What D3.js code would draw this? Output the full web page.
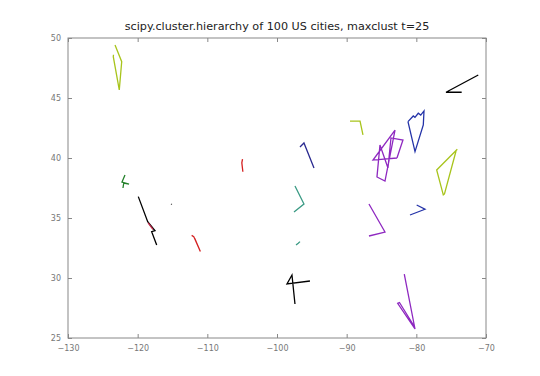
<!DOCTYPE html>
<html>
<head>
<meta charset="utf-8">
<script src="https://cdn.jsdelivr.net/npm/d3@7"></script>
<style>
  body { margin: 0; background: #fff; }
  svg { font-family: "DejaVu Sans", sans-serif; }
</style>
</head>
<body>
<div id="chart"></div>
<script>
// Cluster paths, [longitude, latitude]
const pacificNW = [[-123.25, 49.42], [-122.29, 48.03], [-122.64, 45.67], [-123.5, 48.44], [-123.47, 48.6]];
const bayArea = [[-121.82, 38.58], [-122.25, 38.0], [-121.24, 37.83], [-122.0, 37.9], [-122.11, 37.5]];
const socal = [[-119.91, 36.78], [-118.56, 34.69], [-117.51, 33.94], [-117.99, 33.86], [-117.27, 32.75]];
const socalRed = [[-118.5, 34.6], [-117.8, 34.05]];
const vegas = [[-115.2, 36.17], [-115.1, 36.12]];
const phoenix = [[-112.25, 33.55], [-111.95, 33.45], [-111.0, 32.2], [-111.8, 33.3]];
const denver = [[-104.95, 39.9], [-105.05, 39.6], [-104.9, 38.85]];
const texas = [[-97.42, 27.83], [-97.85, 30.25], [-98.57, 29.5], [-95.27, 29.75]];
const plains = [[-96.7, 40.92], [-96.13, 41.25], [-94.69, 39.17]];
const oklahoma = [[-97.42, 37.67], [-96.13, 36.17], [-97.56, 35.5]];
const dfw = [[-97.27, 32.75], [-96.95, 32.9], [-96.7, 33.03]];
const chicago = [[-89.52, 43.08], [-88.08, 43.08], [-87.66, 41.92]];
const southeast = [[-86.8, 36.17], [-84.5, 33.83], [-86.8, 33.5]];
const florida = [[-81.73, 30.33], [-80.19, 25.75], [-82.68, 27.89], [-82.42, 27.96], [-80.33, 26.0]];
const ohioValley = [[-82.78, 40.0], [-86.22, 39.83], [-83.06, 42.33], [-84.5, 38.08], [-85.65, 38.42],
                    [-85.22, 41.08], [-84.07, 39.17], [-83.64, 41.67], [-81.92, 41.5], [-82.78, 40.0]];
const ontario = [[-81.2, 43.03], [-80.44, 43.5], [-80.2, 43.39], [-79.72, 43.73], [-79.37, 43.58],
                 [-78.9, 43.92], [-79.0, 42.75], [-80.19, 40.53], [-81.2, 43.03]];
const quebec = [[-71.11, 46.92], [-75.74, 45.48], [-73.49, 45.48]];
const carolinas = [[-79.95, 36.08], [-78.76, 35.73], [-80.91, 35.25]];
const eastCoast = [[-74.12, 40.73], [-77.08, 39.0], [-76.13, 36.92], [-75.96, 37.0], [-74.3, 40.58]];

const clusters = [pacificNW, bayArea, socal, socalRed, vegas, phoenix, denver, texas, plains, oklahoma,
                  dfw, chicago, southeast, florida, ohioValley, ontario, quebec, carolinas, eastCoast];
const colors = ["#a8c41c", "#23802a", "#000000", "#c02848", "#333333", "#d42020", "#d42020", "#000000", "#2a2a90",
                "#3a9a84", "#3a9a84", "#a8c41c", "#8e28c0", "#8e28c0", "#8e28c0", "#2433a8", "#000000", "#2433a8", "#a8c41c"];

const xTicks = [-130, -120, -110, -100, -90, -80, -70];
const yTicks = [25, 30, 35, 40, 45, 50];

const margin = { top: 38, right: 54, bottom: 38, left: 68 };
const W = 540, H = 376;
const width = W - margin.left - margin.right;
const height = H - margin.top - margin.bottom;

const svg = d3.select("#chart").append("svg")
    .attr("width", W)
    .attr("height", H);

const g = svg.append("g")
    .attr("transform", `translate(${margin.left},${margin.top})`);

const x = d3.scaleLinear().domain([-130, -70]).range([0, width]);
const y = d3.scaleLinear().domain([25, 50]).range([height, 0]);

// Title
svg.append("text")
    .attr("x", margin.left + width / 2)
    .attr("y", 30)
    .attr("text-anchor", "middle")
    .attr("font-size", "11.2px")
    .attr("fill", "#222")
    .text("scipy.cluster.hierarchy of 100 US cities, maxclust t=25");

// Cluster lines
const line = d3.line().x(d => x(d[0])).y(d => y(d[1]));
clusters.forEach((pts, i) => {
    g.append("path")
        .attr("d", line(pts))
        .attr("fill", "none")
        .attr("stroke", colors[i])
        .attr("stroke-width", 1.3)
        .attr("stroke-linejoin", "miter");
});

// Axes with inward ticks on all sides
const fmt = d3.format("d");
const styleAxis = sel => {
    sel.select(".domain").remove();
    sel.selectAll(".tick line").attr("stroke", "#888");
    sel.selectAll(".tick text").attr("fill", "#777").attr("font-size", "8px")
        .attr("font-family", "DejaVu Sans, sans-serif");
};

g.append("g")
    .attr("transform", `translate(0,${height})`)
    .call(d3.axisBottom(x).tickValues(xTicks).tickFormat(fmt).tickSize(-4).tickPadding(7))
    .call(styleAxis);

g.append("g")
    .call(d3.axisTop(x).tickValues(xTicks).tickFormat("").tickSize(-4))
    .call(styleAxis);

g.append("g")
    .call(d3.axisLeft(y).tickValues(yTicks).tickFormat(fmt).tickSize(-4).tickPadding(7))
    .call(styleAxis);

g.append("g")
    .attr("transform", `translate(${width},0)`)
    .call(d3.axisRight(y).tickValues(yTicks).tickFormat("").tickSize(-4))
    .call(styleAxis);

// Frame
g.append("rect")
    .attr("width", width)
    .attr("height", height)
    .attr("fill", "none")
    .attr("stroke", "#888")
    .attr("stroke-width", 1);
</script>
</body>
</html>
